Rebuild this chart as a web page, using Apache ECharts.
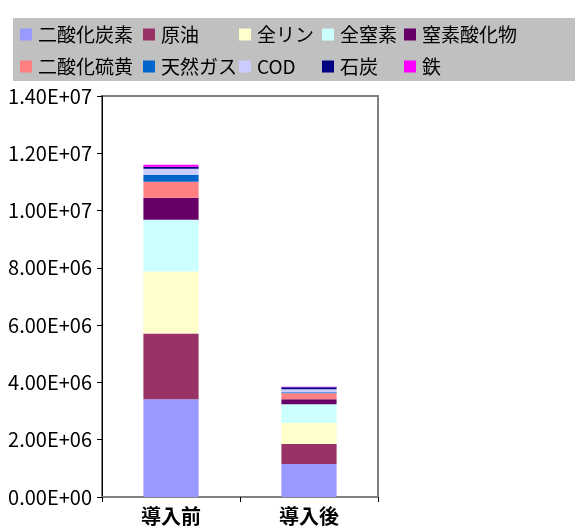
<!DOCTYPE html>
<html><head><meta charset="utf-8">
<script src="https://cdn.jsdelivr.net/npm/echarts@6/dist/echarts.min.js"></script>
<style>html,body{margin:0;padding:0;background:#fff}#c{width:575px;height:527px}</style>
</head><body><div id="c"></div>
<script>
const categories = ['導入前', '導入後'];
const seriesNames = ['二酸化炭素','原油','全リン','全窒素','窒素酸化物','二酸化硫黄','天然ガス','COD','石炭','鉄'];
const co2      = [3410000, 1150000];
const crudeOil = [2300000, 700000];
const totalP   = [2160000, 730000];
const totalN   = [1810000, 660000];
const nox      = [770000, 170000];
const so2      = [560000, 210000];
const natGas   = [240000, 40000];
const cod      = [210000, 100000];
const coal     = [70000, 70000];
const iron     = [70000, 15000];
const yTicks   = [0, 2000000, 4000000, 6000000, 8000000, 10000000, 12000000, 14000000];

const seriesData = [co2, crudeOil, totalP, totalN, nox, so2, natGas, cod, coal, iron];
const colors = ['#9999FF','#993366','#FFFFCC','#CCFFFF','#660066','#FF8080','#0066CC','#CCCCFF','#000080','#FF00FF'];
const FONT = '"Noto Sans CJK JP"';

function sci(v){
  if (v === 0) return '0.00E+00';
  let e = Math.floor(Math.log10(Math.abs(v)) + 1e-9);
  let m = v / Math.pow(10, e);
  return m.toFixed(2) + 'E' + (e >= 0 ? '+' : '-') + String(Math.abs(e)).padStart(2,'0');
}

const legendPos = [
  [20,25],[143,25],[239,25],[322,25],[404,25],
  [20,57],[143,57],[239,57],[322,57],[404,57]
];
const legends = seriesNames.map((n,i)=>({
  data:[n], left: legendPos[i][0], top: legendPos[i][1],
  itemWidth: 12, itemHeight: 12, itemGap: 0, padding: 0, icon: 'rect',
  selectedMode: false,
  textStyle: {fontFamily: FONT, fontSize: 19, color: '#000', padding: [0,0,0,1]}
}));

const chart = echarts.init(document.getElementById('c'));
chart.setOption({
  animation: false,
  color: colors,
  graphic: [{type:'rect', z: -1, shape:{x:13,y:18,width:562,height:63}, style:{fill:'#C0C0C0'}}],
  legend: legends,
  grid: {left: 102, right: 197, top: 96, bottom: 30, show: true, borderColor: '#808080', borderWidth: 2},
  xAxis: {
    type: 'category', data: categories,
    axisLine: {show: true, lineStyle: {color: '#808080', width: 2}},
    axisTick: {show: true, length: 5, lineStyle: {color: '#000'}},
    axisLabel: {fontFamily: FONT, fontSize: 20, fontWeight: 'bold', color: '#000', margin: 9}
  },
  yAxis: {
    type: 'value', min: 0, max: 14000000, interval: 2000000,
    axisLine: {show: true, lineStyle: {color: '#000', width: 1}},
    axisTick: {show: true, length: 5, lineStyle: {color: '#000'}},
    splitLine: {show: false},
    axisLabel: {fontFamily: FONT, fontSize: 20, color: '#000', margin: 10,
      formatter: v => sci(v)}
  },
  series: seriesNames.map((n,i)=>({
    name: n, type: 'bar', stack: 'total', barWidth: '40%',
    data: seriesData[i], itemStyle: {color: colors[i]}
  }))
});
</script></body></html>
